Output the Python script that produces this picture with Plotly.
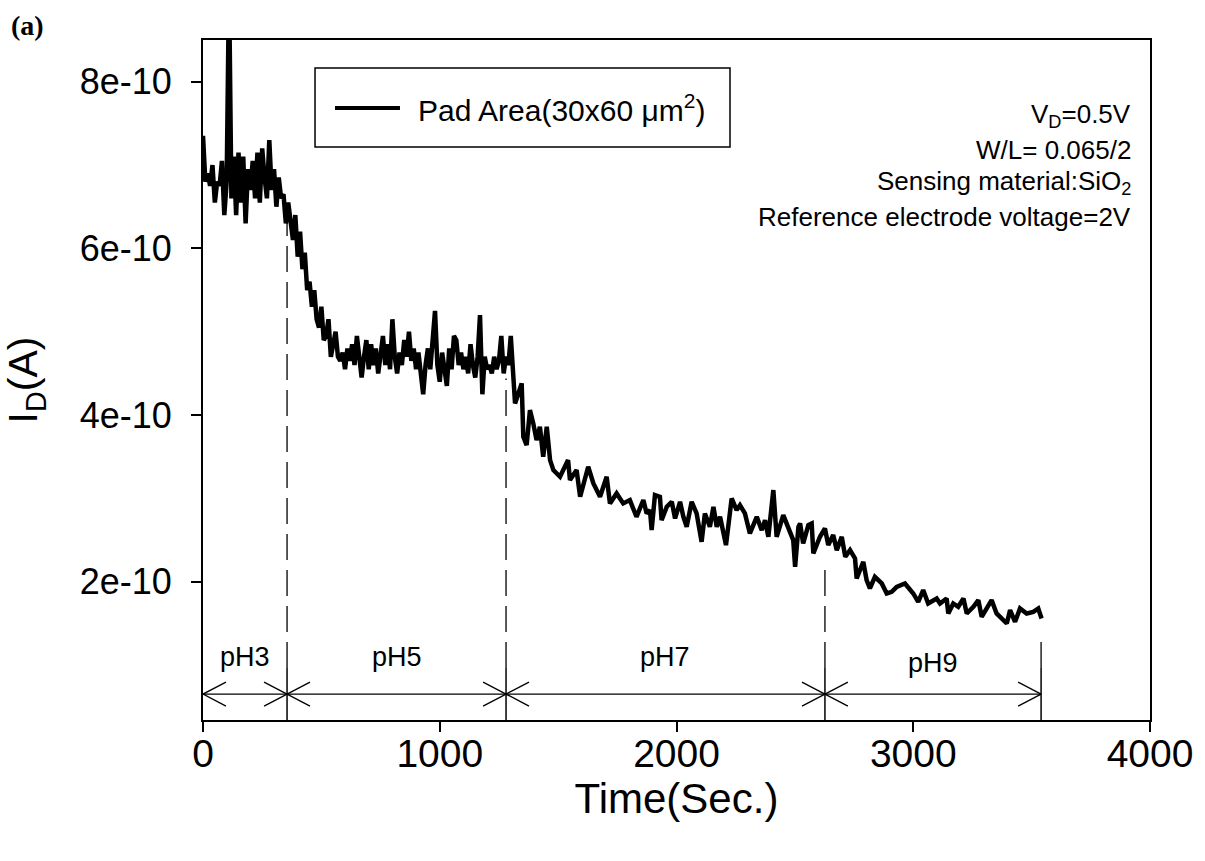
import plotly.graph_objects as go

# Drain current vs. time for the pad-area ISFET, stepped through pH buffers
time_s = [
    0, 10, 20, 30, 40, 50, 60, 70, 80, 90, 100, 110, 120, 130, 140, 150, 160, 170,
    180, 190, 200, 210, 220, 230, 240, 250, 260, 270, 280, 290, 300, 310, 320, 330,
    340, 350,
    360, 370, 380, 390, 400, 410, 420, 430, 440, 450, 460, 470, 480, 490, 500, 510,
    520, 530, 540, 550, 560, 570, 580,
    590, 600, 610, 620, 630, 640, 650, 660, 670, 680, 690, 700, 710, 720, 730, 740,
    750, 760, 770, 780, 790, 800, 810, 820, 830, 840, 850, 860, 870, 880, 890, 900,
    910, 920, 930, 940, 950, 960, 970, 980, 990, 1000, 1010, 1020, 1030, 1040, 1050,
    1060, 1070, 1080, 1090, 1100, 1110, 1120, 1130, 1140, 1150, 1160, 1170, 1180,
    1190, 1200, 1210, 1220, 1230, 1240, 1250, 1260, 1270, 1280, 1290, 1300, 1310,
    1318, 1346, 1353, 1367, 1381, 1395, 1409, 1423, 1437, 1452, 1466, 1480, 1508,
    1542, 1550, 1578, 1593, 1627, 1649, 1677, 1705, 1719, 1747, 1775, 1803, 1831,
    1860, 1874, 1888, 1895, 1909, 1930, 1937, 1959, 1980, 1994, 2015, 2029, 2043,
    2064, 2085, 2106, 2120, 2141, 2156, 2170, 2184, 2209, 2233, 2254, 2268, 2289,
    2310, 2339, 2360, 2374, 2388, 2409, 2423, 2451, 2479, 2493, 2501, 2515, 2522,
    2535, 2557, 2571, 2578, 2606, 2627, 2641, 2662, 2677, 2698, 2713, 2733, 2754,
    2761, 2789, 2803, 2817, 2838, 2867, 2888, 2909, 2930, 2965, 3000, 3021, 3042,
    3063, 3099, 3113, 3141, 3148, 3169, 3190, 3212, 3226, 3254, 3275, 3289, 3310,
    3331, 3352, 3366, 3395, 3409, 3430, 3451, 3479, 3507, 3528, 3542,
]

# Drain current in units of 1e-10 A
current_e10 = [
    7.35, 6.8, 6.9, 6.75, 7.0, 6.55, 6.8, 6.75, 7.05, 6.4, 6.8, 9.2, 6.6, 7.1, 6.4,
    7.15, 6.55, 7.1, 6.3, 6.95, 6.7, 7.05, 6.6, 7.15, 6.55, 7.2, 6.85, 6.6, 7.3, 6.7,
    6.95, 6.5, 6.85, 6.6, 6.65, 6.3,
    6.55, 6.35, 6.1, 6.4, 5.9, 6.2, 5.75, 5.95, 5.5, 5.6, 5.3, 5.5, 5.15, 5.05, 5.3,
    4.9, 4.95, 5.15, 4.7, 4.85, 5.0, 4.7, 4.65,
    4.75, 4.55, 4.8, 4.65, 4.85, 4.6, 4.95, 4.7, 4.45, 4.7, 4.9, 4.55, 4.85, 4.6, 4.8,
    4.5, 4.7, 4.95, 4.6, 4.85, 4.55, 5.15, 4.7, 4.5, 4.75, 4.6, 4.9, 4.7, 5.0, 4.65,
    4.8, 4.55, 4.75, 4.45, 4.25, 4.6, 4.8, 4.55, 4.9, 5.25, 4.6, 4.4, 4.75, 4.5, 4.35,
    4.8, 4.55, 4.95, 4.9, 4.6, 4.75, 4.55, 4.7, 4.5, 4.85, 4.6, 4.45, 4.7, 5.2, 4.25,
    4.7, 4.55, 4.6, 4.5, 4.7, 4.55, 4.65, 4.95, 4.5, 4.7, 4.6, 4.95, 4.5,
    4.14, 4.38, 3.74, 3.64, 4.06, 3.9, 3.7, 3.86, 3.5, 3.86, 3.46, 3.34, 3.26,
    3.46, 3.22, 3.34, 3.02, 3.38, 3.18, 3.02, 3.26, 2.94, 3.06, 2.94, 2.98, 2.78,
    2.98, 2.82, 2.86, 2.62, 3.04, 3.02, 2.74, 2.9, 2.96, 2.76, 2.96, 2.78, 2.66,
    2.96, 2.82, 2.48, 2.82, 2.66, 2.9, 2.66, 2.78, 2.44, 3.0, 2.86, 2.92, 2.82,
    2.58, 2.78, 2.62, 2.74, 2.54, 3.1, 2.54, 2.8, 2.62, 2.5, 2.18, 2.66, 2.70,
    2.46, 2.68, 2.70, 2.34, 2.54, 2.64, 2.44, 2.56, 2.38, 2.54, 2.30, 2.38, 2.28,
    2.04, 2.24, 2.02, 1.92, 2.06, 1.98, 1.86, 1.88, 1.94, 1.98, 1.86, 1.76, 1.90,
    1.74, 1.80, 1.74, 1.80, 1.62, 1.74, 1.70, 1.80, 1.62, 1.70, 1.78, 1.58, 1.68,
    1.78, 1.62, 1.58, 1.50, 1.66, 1.52, 1.68, 1.62, 1.64, 1.68, 1.56,
]

SCALE = 1e-10
current_a = [v * SCALE for v in current_e10]

# Buffer segments: boundaries (s), labels, top of each dashed divider (1e-10 A)
ph_bounds = [0, 355, 1280, 2627, 3540]
ph_labels = ["pH3", "pH5", "pH7", "pH9"]
divider_tops_e10 = [6.36, 4.44, 2.26, 1.38]
label_y_e10 = [1.10, 1.10, 1.10, 1.03]

x_ticks = [0, 1000, 2000, 3000, 4000]
y_ticks = [2e-10, 4e-10, 6e-10, 8e-10]
y_tick_text = ["2e-10", "4e-10", "6e-10", "8e-10"]

X_RANGE = [0, 4000]
Y_RANGE = [0.342e-10, 8.5e-10]

# dimension-line geometry (data units)
ARROW_Y = 0.653e-10
BAR_TOP = 0.965e-10
HEAD_DX = 97
HEAD_DY = 0.144e-10

FONT = "Liberation Sans"

fig = go.Figure()
fig.add_trace(go.Scatter(
    x=time_s, y=current_a, mode="lines",
    line=dict(color="black", width=4.5),
    name="Pad Area(30x60 μm<sup>2</sup>)", showlegend=False,
))

shapes = []
# dividers: solid stub near the axis, dashed up to the curve
for b, top in zip(ph_bounds[1:], divider_tops_e10):
    shapes.append(dict(type="line", xref="x", yref="y", x0=b, x1=b,
                       y0=Y_RANGE[0], y1=BAR_TOP, line=dict(color="black", width=1.5)))
    shapes.append(dict(type="line", xref="x", yref="y", x0=b, x1=b,
                       y0=BAR_TOP, y1=top * SCALE,
                       line=dict(color="black", width=1.3, dash="26px,10px")))
# horizontal dimension line
shapes.append(dict(type="line", xref="x", yref="y", x0=ph_bounds[0], x1=ph_bounds[-1],
                   y0=ARROW_Y, y1=ARROW_Y, line=dict(color="black", width=1.3)))
# open chevron heads at every boundary
for i, b in enumerate(ph_bounds):
    sides = []
    if i > 0:
        sides.append(-1)
    if i < len(ph_bounds) - 1:
        sides.append(1)
    for s in sides:
        for sy in (-1, 1):
            shapes.append(dict(type="line", xref="x", yref="y", x0=b, y0=ARROW_Y,
                               x1=b + s * HEAD_DX, y1=ARROW_Y + sy * HEAD_DY,
                               line=dict(color="black", width=1.3)))

# legend box
shapes.append(dict(type="rect", xref="paper", yref="paper", x0=0.1183, x1=0.5565,
                   y0=0.8426, y1=0.9588, line=dict(color="black", width=1.5),
                   fillcolor="white"))
shapes.append(dict(type="line", xref="paper", yref="paper", x0=0.1394, x1=0.2080,
                   y0=0.9, y1=0.9, line=dict(color="black", width=4)))

annotations = []
for lab, a, b, ly in zip(ph_labels, ph_bounds[:-1], ph_bounds[1:], label_y_e10):
    annotations.append(dict(x=(a + b) / 2, y=ly * SCALE, xref="x", yref="y",
                            xanchor="center", yanchor="middle",
                            text=lab, showarrow=False,
                            font=dict(family=FONT, size=27, color="black")))

annotations.append(dict(x=0.225, y=0.9, xref="paper", yref="paper",
                        xanchor="left", yanchor="middle", showarrow=False,
                        text="Pad Area(30x60 μm<sup>2</sup>)",
                        font=dict(family=FONT, size=30, color="black")))

info_lines = ["V<sub>D</sub>=0.5V", "W/L= 0.065/2",
              "Sensing material:SiO<sub>2</sub>", "Reference electrode voltage=2V"]
info_y = [0.8897, 0.838, 0.790, 0.740]
for t, yy in zip(info_lines, info_y):
    annotations.append(dict(x=0.982, y=yy, xref="paper", yref="paper",
                            xanchor="right", yanchor="middle", showarrow=False,
                            text=t, font=dict(family=FONT, size=26, color="black")))

annotations.append(dict(x=-0.185, y=1.022, xref="paper", yref="paper",
                        xanchor="center", yanchor="middle",
                        showarrow=False, text="<b>(a)</b>",
                        font=dict(family="Liberation Serif", size=28, color="black")))

fig.update_layout(
    width=1205, height=861,
    margin=dict(l=203, r=55, t=40, b=141),
    paper_bgcolor="white", plot_bgcolor="white",
    shapes=shapes, annotations=annotations,
    showlegend=False,
    xaxis=dict(
        range=X_RANGE, tickvals=x_ticks, ticks="outside", ticklen=10, tickwidth=2,
        tickcolor="black", showline=True, linecolor="black", linewidth=2, mirror=True,
        showgrid=False, zeroline=False, automargin=False,
        ticklabelstandoff=-12,
        tickfont=dict(family=FONT, size=39, color="black"),
        title=dict(text="Time(Sec.)", standoff=8,
                   font=dict(family=FONT, size=42, color="black")),
    ),
    yaxis=dict(
        range=Y_RANGE, tickvals=y_ticks, ticktext=y_tick_text, ticks="outside",
        ticklen=10, tickwidth=2, tickcolor="black", showline=True, linecolor="black",
        linewidth=2, mirror=True, showgrid=False, zeroline=False, automargin=False,
        ticklabelstandoff=12,
        tickfont=dict(family=FONT, size=36, color="black"),
        title=dict(text="I<sub>D</sub>(A)", standoff=30,
                   font=dict(family=FONT, size=41, color="black")),
    ),
)

fig.write_html("out.html")
